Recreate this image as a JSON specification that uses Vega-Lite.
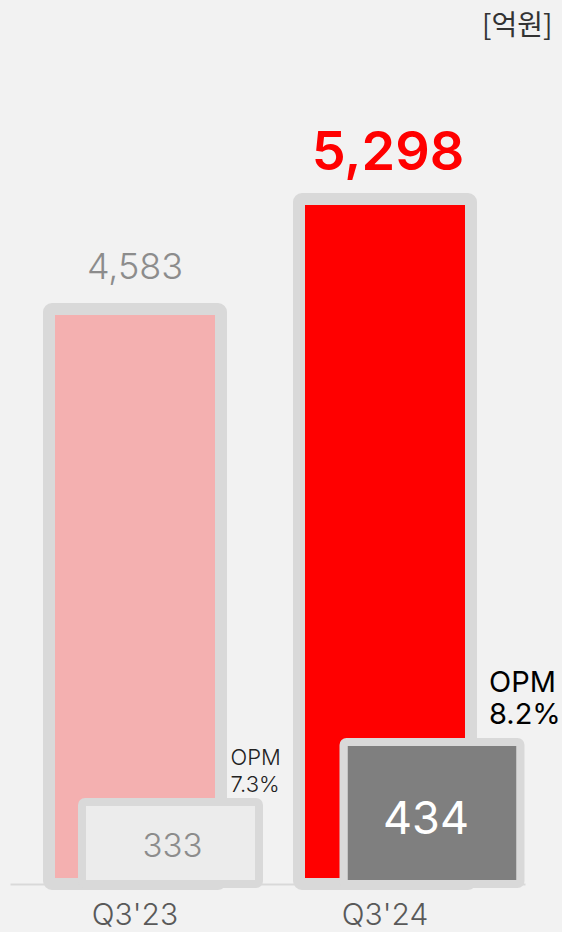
{
  "$schema": "https://vega.github.io/schema/vega-lite/v6.json",
  "width": 515,
  "height": 834,
  "autosize": {"type": "none"},
  "padding": {"left": 10, "top": 50, "right": 37, "bottom": 48},
  "background": "#f2f2f2",
  "config": {"view": {"stroke": null}, "font": "Inter"},
  "title": {"text": "[억원]", "anchor": "start", "align": "left", "font": "Noto Sans CJK KR", "fontSize": 28, "fontWeight": 400, "color": "#333333", "offset": 9, "dx": 472},
  "data": {"values": [
    {"q": "Q3'23", "rev": 4583, "rev_label": "4,583", "op": 333, "opm": "OPM\n7.3%"},
    {"q": "Q3'24", "rev": 5298, "rev_label": "5,298", "op": 434, "opm": "OPM\n8.2%"}
  ]},
  "resolve": {"scale": {"x": "independent", "y": "independent"}},
  "layer": [
    {
      "encoding": {
        "x": {"field": "q", "type": "nominal", "sort": null,
          "scale": {"paddingInner": 0, "paddingOuter": 0.03, "align": 0},
          "axis": {"title": null, "labelAngle": 0, "labelFontSize": 30, "labelFontWeight": 300, "labelColor": "#595959", "labelPadding": 16, "ticks": false, "domainColor": "#d9d9d9", "domainWidth": 2}},
        "y": {"field": "rev", "type": "quantitative", "scale": {"domain": [845.6, 6266.5], "zero": false, "nice": false, "clamp": true}, "axis": null}
      },
      "layer": [
        {
          "mark": {"type": "bar", "width": 172, "stroke": "#d9d9d9", "strokeWidth": 12, "cornerRadius": 3},
          "encoding": {"fill": {"condition": {"test": "datum.q === \"Q3'24\"", "value": "#ff0000"}, "value": "#f4b0b0"}}
        },
        {
          "transform": [{"filter": "datum.q === \"Q3'23\""}],
          "mark": {"type": "text", "baseline": "alphabetic", "dy": -30, "fontSize": 36, "fontWeight": 300, "color": "#8c8c8c"},
          "encoding": {"text": {"field": "rev_label"}}
        },
        {
          "transform": [{"filter": "datum.q === \"Q3'24\""}],
          "mark": {"type": "text", "baseline": "alphabetic", "dx": 3, "dy": -29, "fontSize": 54, "fontWeight": 600, "color": "#ff0000"},
          "encoding": {"text": {"field": "rev_label"}}
        }
      ]
    },
    {
      "encoding": {
        "x": {"field": "q", "type": "nominal", "sort": null,
          "scale": {"paddingInner": 0.5, "paddingOuter": 0.2347, "align": 0.775}, "axis": null},
        "y": {"field": "op", "type": "quantitative", "scale": {"domain": [195, 1599], "zero": false, "nice": false, "clamp": true}, "axis": null}
      },
      "layer": [
        {
          "mark": {"type": "bar", "width": 177, "stroke": "#d9d9d9", "strokeWidth": 8, "cornerRadius": 3},
          "encoding": {"fill": {"condition": {"test": "datum.q === \"Q3'24\"", "value": "#7f7f7f"}, "value": "#ececec"}}
        },
        {
          "transform": [{"filter": "datum.q === \"Q3'23\""}],
          "mark": {"type": "text", "baseline": "alphabetic", "dx": 2, "dy": 55, "fontSize": 33, "fontWeight": 300, "color": "#8c8c8c"},
          "encoding": {"text": {"field": "op"}}
        },
        {
          "transform": [{"filter": "datum.q === \"Q3'24\""}],
          "mark": {"type": "text", "baseline": "alphabetic", "dx": -6, "dy": 92, "fontSize": 45, "fontWeight": 400, "color": "#ffffff"},
          "encoding": {"text": {"field": "op"}}
        },
        {
          "transform": [{"filter": "datum.q === \"Q3'23\""}],
          "mark": {"type": "text", "align": "left", "baseline": "alphabetic", "dx": 60, "dy": -37, "lineBreak": "\n", "lineHeight": 27, "fontSize": 22, "fontWeight": 300, "color": "#222222"},
          "encoding": {"text": {"field": "opm"}}
        },
        {
          "transform": [{"filter": "datum.q === \"Q3'24\""}],
          "mark": {"type": "text", "align": "left", "baseline": "alphabetic", "dx": 57, "dy": -50, "lineBreak": "\n", "lineHeight": 32, "fontSize": 29, "fontWeight": 400, "color": "#000000"},
          "encoding": {"text": {"field": "opm"}}
        }
      ]
    }
  ]
}
